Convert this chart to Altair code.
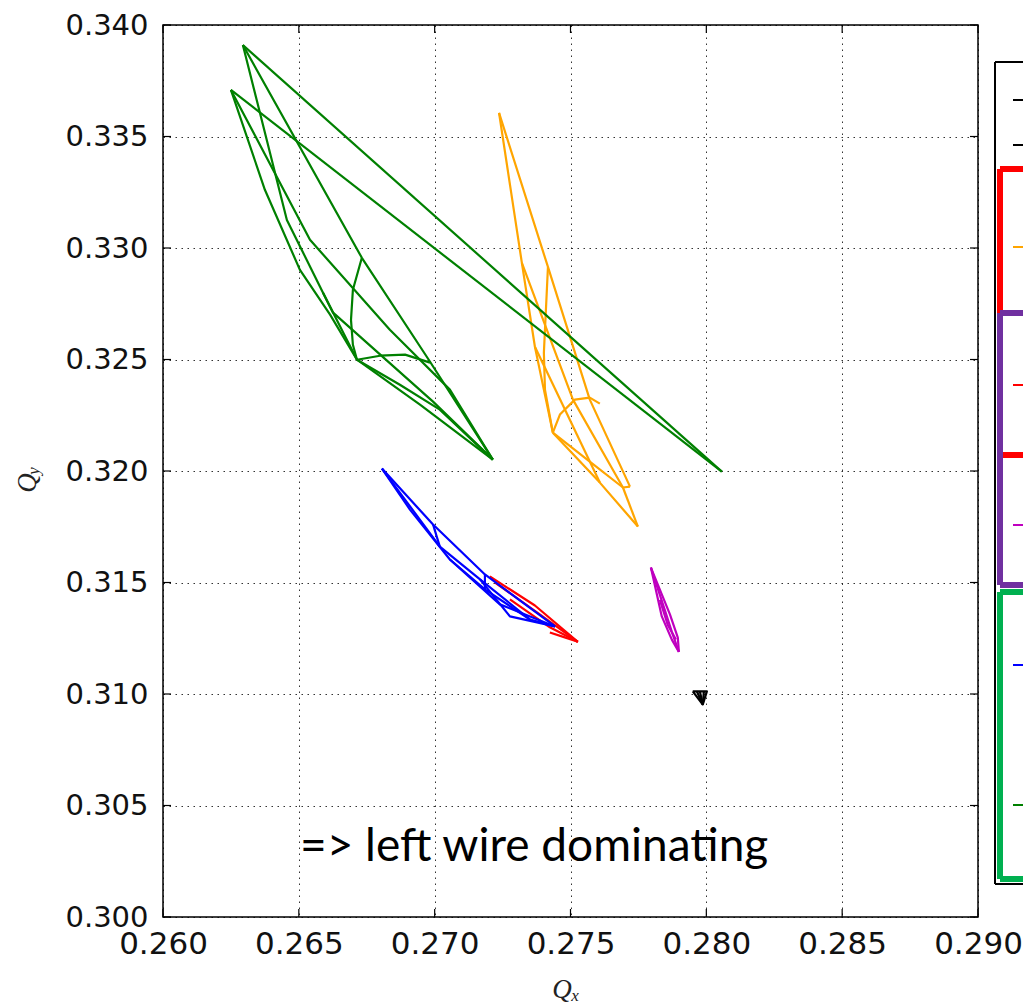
import altair as alt
import pandas as pd

# ---------------- data ----------------
x_ticks = [0.260, 0.265, 0.270, 0.275, 0.280, 0.285, 0.290]
y_ticks = [0.300, 0.305, 0.310, 0.315, 0.320, 0.325, 0.330, 0.335, 0.340]

green_lines = [
    [(0.26294, 0.33910), (0.28057, 0.31997)],
    [(0.26250, 0.33709), (0.28057, 0.31997)],
    [(0.26294, 0.33910), (0.26732, 0.32956), (0.26983, 0.32490), (0.27214, 0.32051)],
    [(0.26732, 0.32956), (0.26699, 0.32813), (0.26692, 0.32678), (0.26699, 0.32566), (0.26714, 0.32499)],
    [(0.26294, 0.33910), (0.26456, 0.33126), (0.26589, 0.32799), (0.26714, 0.32499)],
    [(0.26250, 0.33709), (0.26375, 0.33261), (0.26504, 0.32902), (0.26615, 0.32701), (0.26714, 0.32499)],
    [(0.26250, 0.33709), (0.26541, 0.33037), (0.26835, 0.32633), (0.27056, 0.32365), (0.27214, 0.32051)],
    [(0.26714, 0.32499), (0.26872, 0.32387), (0.27019, 0.32275), (0.27214, 0.32051)],
    [(0.26714, 0.32499), (0.26946, 0.32298), (0.27214, 0.32051)],
    [(0.26714, 0.32499), (0.26799, 0.32517), (0.26891, 0.32522), (0.26983, 0.32486)],
    [(0.26589, 0.32799), (0.26626, 0.32710), (0.26994, 0.32311), (0.27214, 0.32051)],
]

orange_lines = [
    [(0.27237, 0.33606), (0.27321, 0.32933), (0.27369, 0.32557), (0.27435, 0.32172)],
    [(0.27237, 0.33606), (0.27417, 0.32915), (0.27571, 0.32320), (0.27719, 0.31930)],
    [(0.27417, 0.32915), (0.27402, 0.32530), (0.27406, 0.32365), (0.27435, 0.32172)],
    [(0.27321, 0.32933), (0.27509, 0.32320), (0.27693, 0.31926)],
    [(0.27369, 0.32557), (0.27608, 0.31948)],
    [(0.27435, 0.32172), (0.27608, 0.31948), (0.27748, 0.31751)],
    [(0.27435, 0.32172), (0.27571, 0.32042), (0.27693, 0.31926), (0.27719, 0.31930)],
    [(0.27435, 0.32172), (0.27461, 0.32253), (0.27516, 0.32320), (0.27571, 0.32329), (0.27608, 0.32302)],
    [(0.27693, 0.31926), (0.27748, 0.31751)],
]

red_lines = [
    [(0.27203, 0.31527), (0.27369, 0.31397), (0.27527, 0.31234)],
    [(0.27222, 0.31500), (0.27387, 0.31357), (0.27527, 0.31234)],
    [(0.27277, 0.31424), (0.27424, 0.31299), (0.27527, 0.31234)],
    [(0.27424, 0.31276), (0.27479, 0.31254), (0.27527, 0.31234)],
]

magenta_lines = [
    [(0.27796, 0.31567), (0.27836, 0.31348), (0.27873, 0.31244), (0.27899, 0.31189)],
    [(0.27796, 0.31567), (0.27866, 0.31357), (0.27895, 0.31253), (0.27899, 0.31189)],
    [(0.27796, 0.31567), (0.27847, 0.31377), (0.27873, 0.31279), (0.27899, 0.31189)],
    [(0.27829, 0.31422), (0.27858, 0.31310), (0.27888, 0.31244)],
]

blue_lines = [
    [(0.26806, 0.32011), (0.26994, 0.31760), (0.27185, 0.31536), (0.27443, 0.31303)],
    [(0.26806, 0.32011), (0.27019, 0.31661), (0.27167, 0.31514), (0.27277, 0.31348), (0.27443, 0.31303)],
    [(0.26806, 0.32011), (0.26909, 0.31827), (0.27056, 0.31603), (0.27240, 0.31402), (0.27443, 0.31303)],
    [(0.26994, 0.31760), (0.27019, 0.31661)],
    [(0.27185, 0.31536), (0.27185, 0.31469)],
    [(0.27167, 0.31514), (0.27351, 0.31334), (0.27443, 0.31303)],
    [(0.27056, 0.31603), (0.27185, 0.31469), (0.27351, 0.31334)],
]

black_lines = [
    [(0.27950, 0.31012), (0.28002, 0.31012), (0.27987, 0.30953), (0.27950, 0.31012)],
    [(0.27965, 0.31012), (0.27987, 0.30953)],
    [(0.27976, 0.31012), (0.27987, 0.30953)],
    [(0.27991, 0.31012), (0.27987, 0.30953)],
]

series = [
    ("black", black_lines, "#000000"),
    ("orange", orange_lines, "#FFA500"),
    ("red", red_lines, "#FF0000"),
    ("magenta", magenta_lines, "#BF00BF"),
    ("blue", blue_lines, "#0000FF"),
    ("green", green_lines, "#008000"),
]

note_text = "=> left wire dominating"
note_x = 0.27366
note_y = 0.30250

# ---------------- chart ----------------
W, H = 815, 892
x_scale = alt.Scale(domain=[0.26, 0.29], nice=False, zero=False)
y_scale = alt.Scale(domain=[0.30, 0.34], nice=False, zero=False)

x_axis = alt.Axis(values=x_ticks, format=".3f", labelFont="DejaVu Sans", labelFontSize=31,
                  labelColor="#111111", ticks=False, domain=False, grid=True, gridColor="black",
                  gridOpacity=0.8, gridDash=[1.5, 4.5], gridWidth=1, labelPadding=12,
                  labelFlush=False, labelOverlap=False, title=None)
y_axis = alt.Axis(values=y_ticks, format=".3f", labelFont="DejaVu Sans", labelFontSize=29,
                  labelColor="#111111", ticks=False, domain=False, grid=True, gridColor="black",
                  gridOpacity=0.8, gridDash=[1.5, 4.5], gridWidth=1, labelPadding=15,
                  labelFlush=False, labelOverlap=False, title=None)

X = lambda: alt.X("qx:Q", scale=x_scale, axis=x_axis)
Y = lambda: alt.Y("qy:Q", scale=y_scale, axis=y_axis)


def lines_df(lines):
    rows = []
    for s, line in enumerate(lines):
        for o, (qx, qy) in enumerate(line):
            rows.append({"qx": qx, "qy": qy, "seg": s, "ord": o})
    return pd.DataFrame(rows)


layers = []
for name, lines, col in series:
    layers.append(
        alt.Chart(lines_df(lines)).mark_line(strokeWidth=2.2, color=col, clip=True, strokeJoin="round").encode(
            x=X(), y=Y(), detail="seg:N", order="ord:Q",
        )
    )

# inward ticks (matplotlib classic style), on all four sides
xt = pd.DataFrame({"qx": x_ticks})
yt = pd.DataFrame({"qy": y_ticks})
tick_style = dict(color="black", strokeWidth=1.2)
layers += [
    alt.Chart(xt).mark_rule(**tick_style).encode(x=X(), y=alt.value(H), y2=alt.value(H - 8)),
    alt.Chart(xt).mark_rule(**tick_style).encode(x=X(), y=alt.value(0), y2=alt.value(8)),
    alt.Chart(yt).mark_rule(**tick_style).encode(y=Y(), x=alt.value(0), x2=alt.value(8)),
    alt.Chart(yt).mark_rule(**tick_style).encode(y=Y(), x=alt.value(W), x2=alt.value(W - 8)),
]

# annotation
layers.append(
    alt.Chart(pd.DataFrame({"qx": [note_x], "qy": [note_y], "t": [note_text]})).mark_text(
        font="Lato", fontSize=46, align="center", baseline="alphabetic", color="black"
    ).encode(x=X(), y=Y(), text="t:N")
)


# axis titles (math style Q with subscript)
def txt(t, x, y, size, angle=0):
    return alt.Chart().mark_text(text=t, font="Liberation Serif", fontStyle="italic",
                                 fontSize=size, angle=angle, align="center", baseline="middle",
                                 color="#222222").encode(x=alt.value(x), y=alt.value(y))


layers += [
    txt("Q", 399, 965, 27),
    txt("x", 412, 971, 17),
    txt("Q", -135, 458, 27, angle=270),
    txt("y", -129, 446, 17, angle=270),
]


# legend frame (cut by the right edge of the picture, as in the reference)
def rule(x1, x2, y1, y2, col, w):
    return alt.Chart().mark_rule(color=col, strokeWidth=w).encode(
        x=alt.value(x1), x2=alt.value(x2), y=alt.value(y1), y2=alt.value(y2))


R = 875
layers += [
    rule(832, R, 37, 37, "black", 2),
    rule(832, 832, 37, 859, "black", 2),
    rule(832, R, 859, 859, "black", 2),
    rule(837, R, 144, 144, "#FF0000", 6),
    rule(837, 837, 144, 430, "#FF0000", 6),
    rule(837, R, 430, 430, "#FF0000", 6),
    rule(837, R, 288, 288, "#7030A0", 6),
    rule(837, 837, 288, 560, "#7030A0", 6),
    rule(837, R, 560, 560, "#7030A0", 6),
    rule(837, R, 567, 567, "#00B050", 6),
    rule(837, 837, 567, 854, "#00B050", 6),
    rule(837, R, 854, 854, "#00B050", 6),
]
for (yy, col) in [(75, "black"), (120, "black"), (222, "#FFA500"), (360, "#FF0000"),
                  (500, "#BF00BF"), (640, "#0000FF"), (780, "#008000")]:
    layers.append(rule(850, R, yy, yy, col, 2))

chart = alt.layer(*layers).properties(
    width=W, height=H,
    padding={"left": 163, "top": 25, "right": 45, "bottom": 87},
    autosize=alt.AutoSizeParams(type="none"),
    background="white",
).configure_view(stroke="black", strokeWidth=1.5)

chart.save("out.html", embed_options={"renderer": "svg", "actions": False})
